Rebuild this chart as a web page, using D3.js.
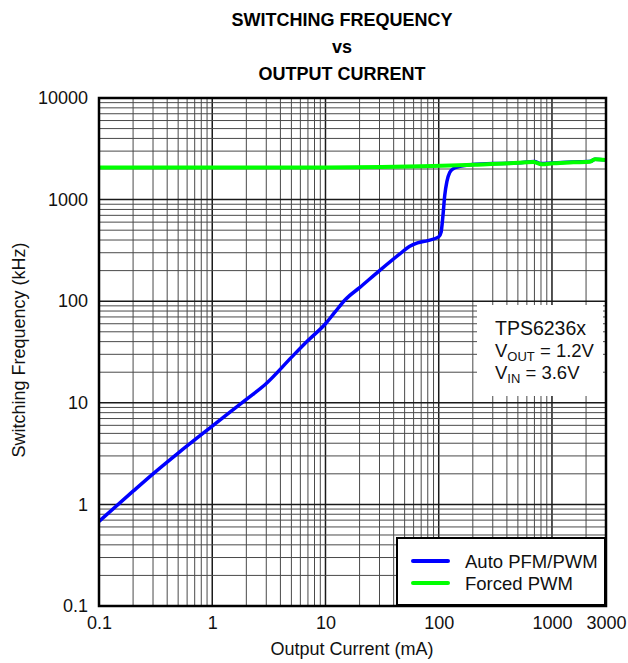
<!DOCTYPE html>
<html>
<head>
<meta charset="utf-8">
<script src="https://cdn.jsdelivr.net/npm/d3@7"></script>
<style>
  html, body { margin: 0; padding: 0; background: #fff; }
  svg { display: block; font-family: "Liberation Sans", Arial, sans-serif; }
</style>
</head>
<body>
<svg id="chart" width="628" height="663"></svg>
<script>
// ---------- data ----------
const titleLines = ["SWITCHING FREQUENCY", "vs", "OUTPUT CURRENT"];
const xTickValues = [0.1, 1, 10, 100, 1000, 3000];
const xTickLabels = ["0.1", "1", "10", "100", "1000", "3000"];
const yTickValues = [0.1, 1, 10, 100, 1000, 10000];
const yTickLabels = ["0.1", "1", "10", "100", "1000", "10000"];

const autoCurrent = [0.1, 0.2, 0.3, 0.5, 1, 2, 3, 5, 7, 10, 12, 15, 20, 30, 45, 55, 65, 80, 100, 105, 109, 113, 118, 125, 135, 150, 200, 300, 500, 700, 800, 1000, 1500, 2200, 2400, 3000];
const autoFreq    = [0.68, 1.35, 2.0, 3.2, 5.9, 10.8, 15.5, 28, 41, 60, 77, 104, 136, 200, 290, 345, 375, 395, 430, 480, 700, 1100, 1500, 1850, 2020, 2110, 2220, 2260, 2300, 2370, 2260, 2290, 2340, 2380, 2500, 2460];

const forcedCurrent = [0.1, 1, 10, 89.5, 202, 426, 684, 811, 1028, 1542, 2167, 2397, 3000];
const forcedFreq    = [2070, 2070, 2075, 2140, 2205, 2275, 2345, 2225, 2275, 2327, 2360, 2494, 2455];

const seriesNames = ["Auto PFM/PWM", "Forced PWM"];
const seriesColors = ["#0000ff", "#00ff00"];

// ---------- layout ----------
const svg = d3.select("#chart");
const L = 99, R = 606, T = 98, B = 606;

const x = d3.scaleLog().domain([0.1, 3000]).range([L, R]);
const y = d3.scaleLog().domain([0.1, 10000]).range([B, T]);

// title
svg.append("g").selectAll("text").data(titleLines).join("text")
  .attr("x", 342).attr("y", (d, i) => 26 + i * 27)
  .attr("text-anchor", "middle")
  .attr("font-size", 18).attr("font-weight", "bold")
  .text(d => d);

// grid
svg.append("clipPath").attr("id", "plotclip")
  .append("rect").attr("x", L).attr("y", T).attr("width", R - L).attr("height", B - T);

const xMinor = [];
for (let e = -1; e <= 3; e++) for (let m = 1; m <= 9; m++) {
  const v = m * Math.pow(10, e);
  if (v > 0.1 && v < 3000) xMinor.push(v);
}
const yMinor = [];
for (let e = -1; e <= 3; e++) for (let m = 1; m <= 9; m++) {
  const v = m * Math.pow(10, e);
  if (v > 0.1 && v < 10000) yMinor.push(v);
}
const isDecade = v => Math.abs(Math.log10(v) - Math.round(Math.log10(v))) < 1e-9;

const grid = svg.append("g");
grid.selectAll("line.vx").data(xMinor).join("line")
  .attr("x1", d => x(d)).attr("x2", d => x(d)).attr("y1", T).attr("y2", B)
  .attr("stroke", d => isDecade(d) ? "#1a1a1a" : "#4a4a4a")
  .attr("stroke-width", d => isDecade(d) ? 1.5 : 1);
grid.selectAll("line.hy").data(yMinor).join("line")
  .attr("y1", d => y(d)).attr("y2", d => y(d)).attr("x1", L).attr("x2", R)
  .attr("stroke", d => isDecade(d) ? "#1a1a1a" : "#4a4a4a")
  .attr("stroke-width", d => isDecade(d) ? 1.5 : 1);

// annotation box (covers grid)
svg.append("rect").attr("x", 477).attr("y", 305).attr("width", 126).attr("height", 91)
  .attr("fill", "#fff");
svg.append("text").attr("font-size", 19.5).attr("fill", "#111")
  .attr("x", 495).attr("y", 335).text("TPS6236x");
const l2 = svg.append("text").attr("font-size", 18.5).attr("fill", "#111").attr("x", 495).attr("y", 357);
l2.append("tspan").text("V");
l2.append("tspan").attr("font-size", 13).attr("dy", 4).text("OUT");
l2.append("tspan").attr("dy", -4).text(" = 1.2V");
const l3 = svg.append("text").attr("font-size", 18.5).attr("fill", "#111").attr("x", 495).attr("y", 379);
l3.append("tspan").text("V");
l3.append("tspan").attr("font-size", 13).attr("dy", 4).text("IN");
l3.append("tspan").attr("dy", -4).text(" = 3.6V");

// lines
const line = d3.line().x(d => x(d[0])).y(d => y(d[1])).curve(d3.curveMonotoneX);
const plot = svg.append("g").attr("clip-path", "url(#plotclip)");
const autoData = autoCurrent.map((c, i) => [c, autoFreq[i]]);
const forcedData = forcedCurrent.map((c, i) => [c, forcedFreq[i]]);
plot.append("path").datum(autoData).attr("d", line)
  .attr("fill", "none").attr("stroke", seriesColors[0]).attr("stroke-width", 3.5)
  .attr("stroke-linejoin", "round");
plot.append("path").datum(forcedData).attr("d", line)
  .attr("fill", "none").attr("stroke", seriesColors[1]).attr("stroke-width", 4)
  .attr("stroke-linejoin", "round");

// legend
const lg = svg.append("g");
lg.append("rect").attr("x", 397).attr("y", 538).attr("width", 208).attr("height", 67)
  .attr("fill", "#fff").attr("stroke", "#000").attr("stroke-width", 2);
seriesNames.forEach((n, i) => {
  const yy = 561 + i * 22;
  lg.append("line").attr("x1", 413).attr("x2", 448).attr("y1", yy).attr("y2", yy)
    .attr("stroke", seriesColors[i]).attr("stroke-width", 4).attr("stroke-linecap", "round");
  lg.append("text").attr("x", 465).attr("y", yy + 6.5).attr("font-size", 18.5).attr("fill", "#111").text(n);
});

// plot border
svg.append("rect").attr("x", L).attr("y", T).attr("width", R - L).attr("height", B - T)
  .attr("fill", "none").attr("stroke", "#000").attr("stroke-width", 2.5);

// axes labels
const xAxis = d3.axisBottom(x).tickValues(xTickValues)
  .tickFormat((d, i) => xTickLabels[i]).tickSize(0).tickPadding(10);
const gx = svg.append("g").attr("transform", `translate(0,${B})`).call(xAxis);
gx.select(".domain").remove();
gx.selectAll("text").attr("font-size", 18).attr("fill", "#111").attr("font-family", "Liberation Sans, Arial, sans-serif");

const yAxis = d3.axisLeft(y).tickValues(yTickValues)
  .tickFormat((d, i) => yTickLabels[i]).tickSize(0).tickPadding(11);
const gy = svg.append("g").attr("transform", `translate(${L},0)`).call(yAxis);
gy.select(".domain").remove();
gy.selectAll("text").attr("font-size", 18).attr("fill", "#111").attr("font-family", "Liberation Sans, Arial, sans-serif");

svg.append("text").attr("x", 352).attr("y", 655).attr("text-anchor", "middle")
  .attr("font-size", 18).attr("fill", "#111").text("Output Current (mA)");
svg.append("text").attr("transform", "translate(25,350) rotate(-90)").attr("text-anchor", "middle")
  .attr("font-size", 18).attr("fill", "#111").text("Switching Frequency (kHz)");
</script>
</body>
</html>
